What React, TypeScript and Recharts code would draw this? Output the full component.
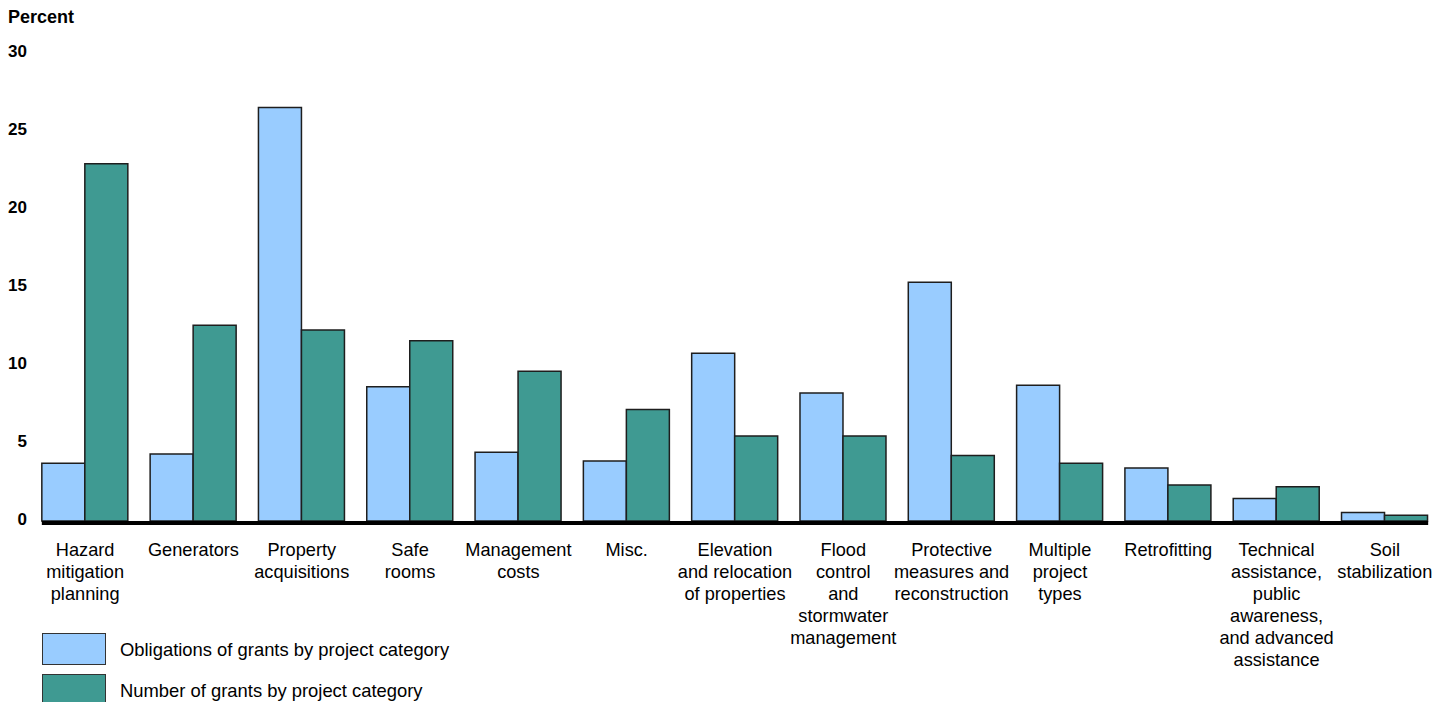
import React from 'react';
import { BarChart, Bar, XAxis, YAxis, ReferenceLine } from 'recharts';

const categories = [
  'Hazard mitigation planning',
  'Generators',
  'Property acquisitions',
  'Safe rooms',
  'Management costs',
  'Misc.',
  'Elevation and relocation of properties',
  'Flood control and stormwater management',
  'Protective measures and reconstruction',
  'Multiple project types',
  'Retrofitting',
  'Technical assistance, public awareness, and advanced assistance',
  'Soil stabilization',
];

const categoryLabelLines = [
  ['Hazard', 'mitigation', 'planning'],
  ['Generators'],
  ['Property', 'acquisitions'],
  ['Safe', 'rooms'],
  ['Management', 'costs'],
  ['Misc.'],
  ['Elevation', 'and relocation', 'of properties'],
  ['Flood', 'control', 'and', 'stormwater', 'management'],
  ['Protective', 'measures and', 'reconstruction'],
  ['Multiple', 'project', 'types'],
  ['Retrofitting'],
  ['Technical', 'assistance,', 'public', 'awareness,', 'and advanced', 'assistance'],
  ['Soil', 'stabilization'],
];

const obligations = [3.7, 4.3, 26.5, 8.6, 4.4, 3.85, 10.75, 8.2, 15.3, 8.7, 3.4, 1.45, 0.55];
const numberOfGrants = [22.9, 12.55, 12.25, 11.55, 9.6, 7.15, 5.45, 5.45, 4.2, 3.7, 2.3, 2.2, 0.37];

const yTicks = [0, 5, 10, 15, 20, 25, 30];

const seriesNames = ['Obligations of grants by project category', 'Number of grants by project category'];

const BLUE = '#99CCFF';
const TEAL = '#3F9A92';
const STROKE = '#1E1E1E';
const FONT = '"Liberation Sans", Arial, Helvetica, sans-serif';

const data = categories.map((name, i) => ({
  name,
  obligations: obligations[i],
  grants: numberOfGrants[i],
}));

const XTick = (props: any) => {
  const { x, y, payload } = props;
  const idx = categories.indexOf(payload.value);
  const lines = categoryLabelLines[idx] || [payload.value];
  return (
    <text x={x} y={y} textAnchor="middle" fill="#000" fontFamily={FONT} fontSize={18.2}>
      {lines.map((l, i) => (
        <tspan key={i} x={x} dy={i === 0 ? 27 : 22}>
          {l}
        </tspan>
      ))}
    </text>
  );
};

const YTick = (props: any) => {
  const { y, payload } = props;
  return (
    <text x={27} y={y + 3.5} textAnchor="end" fill="#000" fontFamily={FONT} fontSize={17} fontWeight="bold">
      {payload.value}
    </text>
  );
};

const Baseline = (props: any) => {
  const { x1, x2, y1 } = props;
  const inset = ((x2 - x1) / categories.length) * 0.1;
  return <rect x={x1 + inset} y={y1} width={x2 - x1 - 2 * inset} height={4} fill="#000" />;
};

export default function App() {
  return (
    <div style={{ width: 1449, height: 702, position: 'relative', background: '#fff', fontFamily: FONT, overflow: 'hidden' }}>
      <style>{`html,body{margin:0;padding:0;overflow:hidden;}`}</style>
      <div
        style={{
          position: 'absolute',
          left: 8,
          top: 7,
          fontFamily: FONT,
          fontSize: 18,
          fontWeight: 'bold',
          color: '#000',
        }}
      >
        Percent
      </div>
      <BarChart
        width={1449}
        height={702}
        data={data}
        margin={{ top: 53, right: 10, bottom: 31, left: 0 }}
        barCategoryGap="10%"
        barGap={0}
      >
        <YAxis
          width={31}
          domain={[0, 30]}
          ticks={yTicks}
          axisLine={false}
          tickLine={false}
          tick={<YTick />}
          interval={0}
        />
        <XAxis
          dataKey="name"
          height={150}
          axisLine={false}
          tickLine={false}
          interval={0}
          tick={<XTick />}
        />
        <Bar dataKey="obligations" name={seriesNames[0]} fill={BLUE} stroke={STROKE} strokeWidth={1.5} isAnimationActive={false} />
        <Bar dataKey="grants" name={seriesNames[1]} fill={TEAL} stroke={STROKE} strokeWidth={1.5} isAnimationActive={false} />
        <ReferenceLine y={0} shape={<Baseline />} ifOverflow="visible" />
      </BarChart>
      <div style={{ position: 'absolute', left: 42, top: 633 }}>
        {seriesNames.map((n, i) => (
          <div key={n} style={{ display: 'flex', alignItems: 'center', height: 31, marginBottom: 10 }}>
            <div
              style={{
                width: 62,
                height: 30,
                background: i === 0 ? BLUE : TEAL,
                border: '1px solid #333',
                flexShrink: 0,
              }}
            />
            <span style={{ marginLeft: 14, fontSize: 18.4, fontFamily: FONT, color: '#000', position: 'relative', top: 1 }}>{n}</span>
          </div>
        ))}
      </div>
    </div>
  );
}
